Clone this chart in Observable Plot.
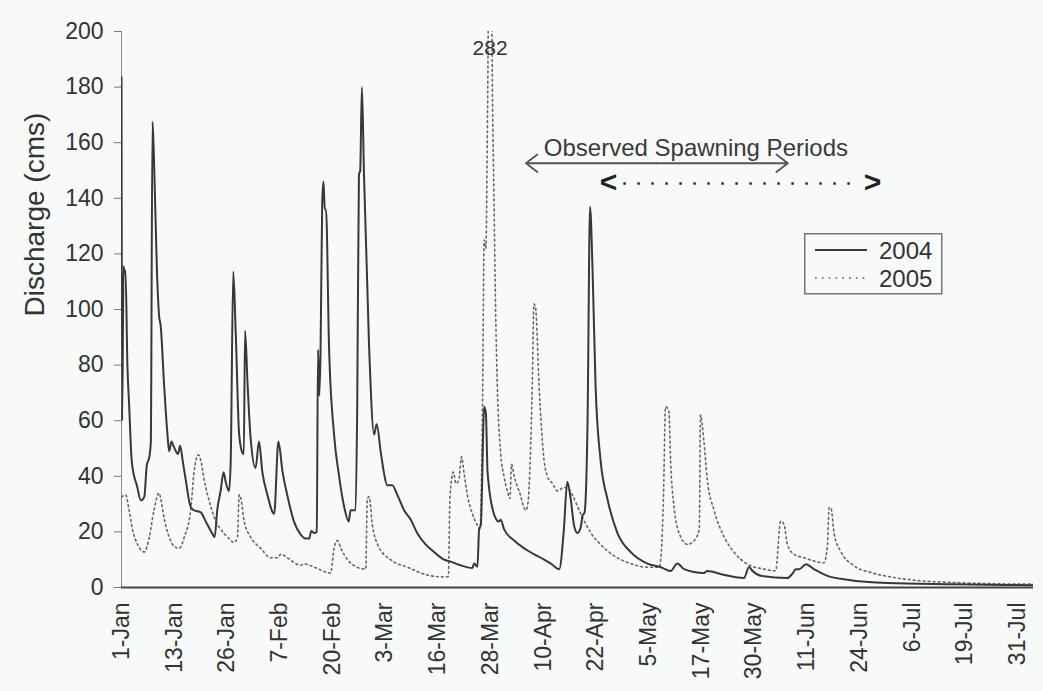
<!DOCTYPE html>
<html>
<head>
<meta charset="utf-8">
<script src="https://cdn.jsdelivr.net/npm/d3@7"></script>
<script src="https://cdn.jsdelivr.net/npm/@observablehq/plot@0.6"></script>
<style>
  html, body { margin: 0; padding: 0; background: #f8f9f9; }
  #wrap { position: relative; width: 1043px; height: 691px; font-family: "Liberation Sans", Arial, sans-serif; color: #333; }
  #legend { position: absolute; left: 804px; top: 233px; }
</style>
</head>
<body>
<div id="wrap"></div>
<script>
// ---- data (day offset from 1-Jan, discharge in cms) ----
const flow2004 = [
  [0,183.5],[0.15,60],[0.5,115.6],[0.75,113],[0.95,114],[1.4,80],[1.8,66],[2.4,46],[3.0,40],[3.6,37],
  [4.6,31.3],[5.4,32.6],[6.0,44],[6.6,47],[6.95,52],[7.35,167.5],[7.74,152],[8.4,114],[8.9,98],[9.3,94],
  [10.1,73],[10.9,55],[11.3,49],[11.85,52.5],[12.3,51],[12.9,49],[13.4,48],[13.9,51],[14.5,45.7],[15.2,39],
  [16.4,29],[17.2,27.8],[18.8,27],[20.0,23.7],[21.2,20.3],[22.1,18.2],[22.7,27.8],[23.5,34.7],[24.2,41.5],[24.7,38],
  [25.5,34.7],[25.9,45.7],[26.5,113.6],[27.1,91],[27.9,55],[28.7,48.4],[29.0,48],[29.3,92.3],[29.9,73],[30.6,54],
  [31.8,43],[32.6,52.5],[33.4,41.5],[34.6,33.3],[36.2,26.5],[37.2,52.5],[38.2,41.5],[39.3,33.3],[40.9,23.7],[42.5,19],
  [43.7,17.6],[44.5,17.6],[45.0,20.3],[45.7,19.6],[46.3,20],[46.6,85.5],[46.9,69],[47.2,85],[47.6,139],[47.9,146],
  [48.2,136],[48.5,136],[49.2,87],[50.4,55],[51.6,40],[52.8,29],[53.9,23.7],[54.3,27.8],[55.5,27.8],[55.9,66],
  [56.3,148.5],[56.6,150],[57.0,180],[57.5,148.5],[58.7,87],[59.9,55],[60.5,58.7],[61.5,48.4],[62.2,41.5],[63.0,36.8],
  [64.2,36.8],[65.4,33.3],[67.0,27.8],[68.6,24.4],[70.1,19.6],[72.1,15.5],[74.1,12.8],[76.5,10],[78.0,9.3],[80.0,8.2],
  [83.2,7],[83.6,8.6],[84.4,7.5],[84.8,21],[85.2,22.4],[86.0,65],[86.4,62.8],[86.8,41.5],[88.3,26.5],[89.5,23.7],
  [89.9,24.4],[90.7,21],[93.1,16.9],[96.2,13.4],[99.4,10.7],[101.8,8.6],[103.8,6.6],[104.9,21],[105.7,38],[106.5,32],
  [107.3,22.4],[108.1,19.6],[108.9,21.7],[109.3,25.8],[109.8,27],[110.5,59],[111.1,137],[111.7,114],[112.4,73],[113.6,45.7],
  [115.2,32],[117.6,19.6],[120.7,12.8],[124.7,8.6],[127.9,7.3],[130.2,5.9],[131.8,8.6],[133.4,6.6],[138.1,5.2],[138.9,5.9],
  [142.9,4.5],[147.6,3.4],[148.8,7.4],[149.6,6.0],[151.6,4.2],[157.9,3.4],[159.1,5.0],[159.9,6.6],[160.7,6.6],[162.3,8.4],
  [164.2,6.6],[167.4,4.2],[172.1,2.8],[181.6,1.6],[197.4,1.2],[216.2,0.8]
];
const flow2005 = [
  [0,32.6],[1.0,33.3],[1.8,27.8],[2.6,21],[3.8,15.5],[5.4,12.8],[6.6,18.2],[7.7,27.8],[8.9,34],[9.3,32],
  [10.1,25],[11.3,18.2],[12.5,14.8],[13.7,14.1],[14.9,18.2],[16.4,27.8],[17.2,41.5],[18.2,47.7],[18.8,45.7],[19.6,38.8],
  [21.2,29],[22.4,23.7],[23.5,21],[25.1,18.2],[26.7,16.2],[27.5,18],[27.9,33.3],[28.3,32],[29.1,23.7],[30.6,18.2],
  [33.0,14.1],[35.4,10.7],[37.0,10.7],[37.8,12],[39.3,10.7],[42.5,8],[43.3,8.5],[45.7,7.3],[49.6,5.2],[50.4,14.1],
  [51.2,16.9],[52.0,14.1],[53.6,10],[55.9,7.3],[57.9,6.6],[58.3,32],[58.7,32.6],[59.5,22.4],[60.7,15.5],[63.8,10],
  [67.8,7.3],[72.5,4.5],[76.5,3.8],[77.5,4.0],[77.9,33],[78.7,41.5],[79.3,37.4],[80.0,38.8],[80.6,47],[81.2,41.5],
  [82.0,33.3],[83.2,26.5],[84.4,22.4],[85.0,21],[85.6,65],[86.0,125],[86.4,122],[86.8,172],[87.4,282],[88.0,172],
  [88.3,141.7],[88.7,100.5],[89.1,73],[89.9,48.4],[90.7,40],[91.5,34.7],[92.1,32],[92.5,44.3],[93.1,40],[94.3,34.7],
  [95.9,27.8],[96.4,30.6],[96.9,45.7],[97.4,73],[97.8,102],[98.2,100.5],[99.0,73],[100.2,45.7],[101.0,40],[102.2,37.4],
  [103.4,34.7],[104.9,36],[106.1,35.4],[106.9,33.3],[108.9,26.5],[111.3,19.6],[113.6,15.5],[116.8,11.4],[120.7,8.6],[124.7,7.3],
  [127.5,7.3],[128.0,12.8],[128.5,32],[129.0,65],[129.8,63.5],[130.2,45.7],[131.0,29],[132.6,18.2],[134.2,15.5],[135.8,16.9],
  [137.0,21],[137.3,62],[138.1,52.5],[138.9,38.8],[140.5,27.8],[142.9,18.2],[145.3,12.6],[148.4,8.4],[152.4,6.6],[155.1,6.0],
  [156.3,23.9],[157.1,22.7],[157.9,15.5],[159.5,11.9],[161.9,10.7],[164.2,9.5],[166.6,8.9],[167.4,15.5],[167.8,28.7],[168.2,28.7],
  [169.0,19.1],[170.5,13.1],[173.7,7.8],[177.7,5.4],[183.2,3.6],[189.5,2.4],[197.4,1.8],[205.3,1.4],[216.2,1.2]
];
const tickDays = [0,12.5,25,37.5,50,62.5,75,87.5,100,112.5,125,137.5,150,162.5,175,187.5,200,212.5];
const tickLabels = ["1-Jan","13-Jan","26-Jan","7-Feb","20-Feb","3-Mar","16-Mar","28-Mar","10-Apr","22-Apr",
                    "5-May","17-May","30-May","11-Jun","24-Jun","6-Jul","19-Jul","31-Jul"];
const yTicks = [0,20,40,60,80,100,120,140,160,180,200];
const seriesNames = ["2004","2005"];
const peak2005 = [{day: 87.4, value: 282}];
const spawnLabel = [{day: 136.2, value: 157.9, text: "Observed Spawning Periods"}];
const spawn2004 = {start: 95.9, end: 158.0, value: 152.6};
const spawn2005 = {start: 115.5, end: 178.1, value: 145.3};
const domainDays = [0, 216.25];

// ---- helpers ----
const t0 = Date.UTC(2004, 0, 1);
const toDate = d => new Date(t0 + d * 864e5);
const rows = arr => arr.map(([d, q]) => ({date: toDate(d), q}));
const data2004 = rows(flow2004);
const data2005 = rows(flow2005);
const xTicks = tickDays.map(toDate);
const labelMap = new Map(xTicks.map((t, i) => [+t, tickLabels[i]]));

const mid04 = (spawn2004.start + spawn2004.end) / 2;
const arrows04 = [
  {x1: toDate(mid04), x2: toDate(spawn2004.start), y: spawn2004.value},
  {x1: toDate(mid04), x2: toDate(spawn2004.end), y: spawn2004.value}
];
const shaft05 = [{x1: toDate(spawn2005.start + 3.5), x2: toDate(spawn2005.end - 3), y: spawn2005.value}];
const heads05 = [
  {x: toDate(spawn2005.start), y: spawn2005.value, t: "<", a: "start"},
  {x: toDate(spawn2005.end), y: spawn2005.value, t: ">", a: "end"}
];

const chart = Plot.plot({
  width: 1043,
  height: 691,
  marginLeft: 121,
  marginRight: 10,
  marginTop: 31,
  marginBottom: 104,
  style: {background: "#f8f9f9", color: "#333", fontFamily: "'Liberation Sans', Arial, sans-serif"},
  x: {type: "utc", domain: domainDays.map(toDate)},
  y: {domain: [0, 200]},
  marks: [
    Plot.axisY({ticks: yTicks, tickSize: 7, tickPadding: 11, fontSize: 23, label: null, stroke: "#777"}),
    Plot.axisX({ticks: xTicks, tickFormat: d => labelMap.get(+d), tickRotate: -90, tickSize: 0, tickPadding: 15, fontSize: 23, label: null}),
    Plot.text(["Discharge (cms)"], {text: d => d, frameAnchor: "left", dx: -86, dy: 7, rotate: -90, fontSize: 28, fill: "#333"}),
    Plot.ruleX([toDate(0)], {stroke: "#888", strokeWidth: 1}),
    Plot.lineY(data2005, {x: "date", y: "q", stroke: "#666", strokeWidth: 1.6, strokeDasharray: "1.8,3.2", curve: "monotone-x", clip: true}),
    Plot.lineY(data2004, {x: "date", y: "q", stroke: "#383838", strokeWidth: 2, curve: "monotone-x", clip: true}),
    Plot.ruleY([0], {stroke: "#444", strokeWidth: 2}),
    Plot.text(peak2005, {x: d => toDate(d.day), frameAnchor: "top", dy: 9, text: d => String(d.value), fontSize: 21, fill: "#333"}),
    Plot.text(spawnLabel, {x: d => toDate(d.day), y: "value", text: "text", fontSize: 24, fill: "#3a3a3a"}),
    Plot.arrow(arrows04, {x1: "x1", x2: "x2", y1: "y", y2: "y", stroke: "#555", strokeWidth: 1.8, headLength: 12, headAngle: 75}),
    Plot.link(shaft05, {x1: "x1", x2: "x2", y1: "y", y2: "y", stroke: "#222", strokeWidth: 2.4, strokeDasharray: "2.4,11.6", strokeLinecap: "butt"}),
    Plot.text(heads05, {x: "x", y: "y", text: "t", textAnchor: d => d.a, fontSize: 30, fontWeight: "bold", fill: "#222", dy: -1})
  ]
});

const wrap = document.getElementById("wrap");
wrap.appendChild(chart);

// ---- legend ----
const ns = "http://www.w3.org/2000/svg";
const leg = document.createElementNS(ns, "svg");
leg.setAttribute("id", "legend");
leg.setAttribute("width", 139);
leg.setAttribute("height", 62);
const styles = [
  {stroke: "#383838", width: 1.8, dash: null},
  {stroke: "#666", width: 1.6, dash: "1.8,5"}
];
let html = `<rect x="0.75" y="0.75" width="137" height="60" fill="#f8f9f9" stroke="#777" stroke-width="1.5"/>`;
seriesNames.forEach((name, i) => {
  const cy = 17 + i * 28;
  const s = styles[i];
  html += `<line x1="11" x2="63" y1="${cy}" y2="${cy}" stroke="${s.stroke}" stroke-width="${s.width}" ${s.dash ? `stroke-dasharray="${s.dash}"` : ""}/>`;
  html += `<text x="75" y="${cy + 8.5}" font-size="24" fill="#333" font-family="'Liberation Sans', Arial, sans-serif">${name}</text>`;
});
leg.innerHTML = html;
wrap.appendChild(leg);
</script>
</body>
</html>
